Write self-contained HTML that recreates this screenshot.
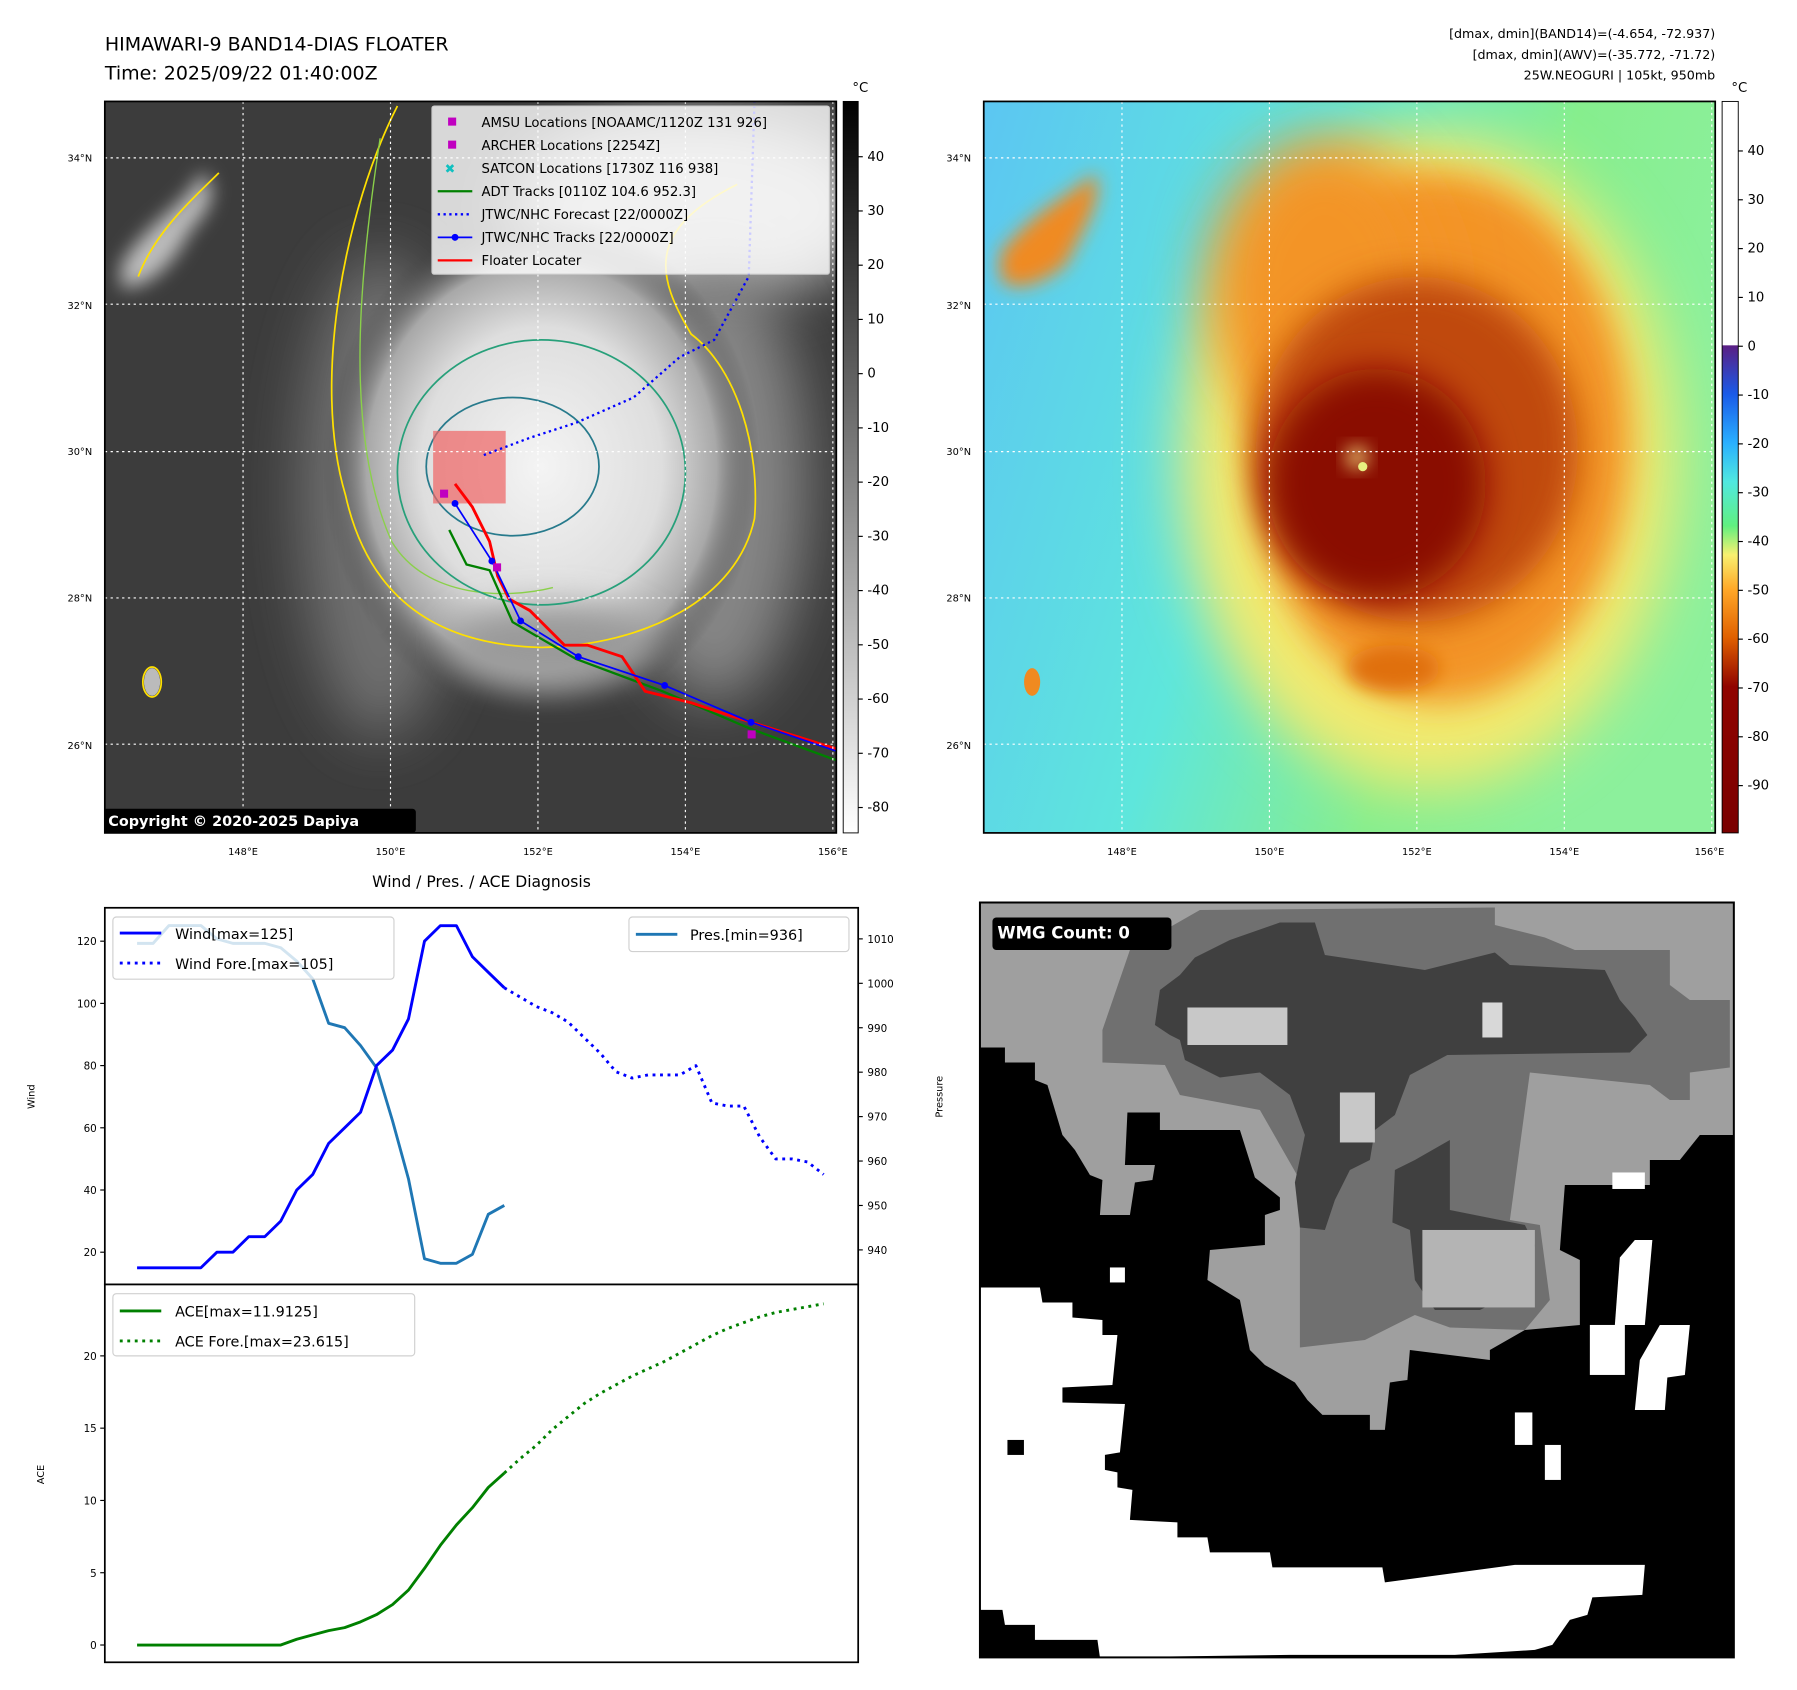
<!DOCTYPE html>
<html><head><meta charset="utf-8"><style>
html,body{margin:0;padding:0;background:#fff;}
svg{display:block;font-family:"DejaVu Sans","Liberation Sans",sans-serif;}
</style></head><body>
<svg id="root" width="1797" height="1690" viewBox="0 0 1560 1467" xmlns="http://www.w3.org/2000/svg">
<defs>
<filter id="b8" x="-50%" y="-50%" width="200%" height="200%"><feGaussianBlur stdDeviation="8"/></filter>
<filter id="b15" x="-50%" y="-50%" width="200%" height="200%"><feGaussianBlur stdDeviation="15"/></filter>
<filter id="b25" x="-50%" y="-50%" width="200%" height="200%"><feGaussianBlur stdDeviation="25"/></filter>
<clipPath id="clipL"><rect x="91" y="88" width="635" height="635"/></clipPath>
<clipPath id="clipR"><rect x="854" y="88" width="635" height="635"/></clipPath>
<radialGradient id="gstorm" cx="0.5" cy="0.5" r="0.5">
<stop offset="0" stop-color="#f4f4f4"/><stop offset="0.55" stop-color="#dedede"/><stop offset="0.8" stop-color="#a8a8a8"/><stop offset="1" stop-color="#3c3c3c" stop-opacity="0"/></radialGradient>
<linearGradient id="gbgR" x1="0" y1="0" x2="1" y2="0.3">
<stop offset="0" stop-color="#5cc6f2"/><stop offset="0.45" stop-color="#5ee6dc"/><stop offset="0.75" stop-color="#86ee8e"/><stop offset="1" stop-color="#8cf09c"/></linearGradient>
<linearGradient id="cbL" x1="0" y1="0" x2="0" y2="1"><stop offset="0" stop-color="#000"/><stop offset="1" stop-color="#fff"/></linearGradient>
<linearGradient id="cbR" x1="0" y1="0" x2="0" y2="1">
<stop offset="0" stop-color="#fff"/><stop offset="0.333" stop-color="#fff"/><stop offset="0.334" stop-color="#5a1f84"/>
<stop offset="0.4" stop-color="#1a5ae8"/><stop offset="0.467" stop-color="#2ab0ff"/><stop offset="0.52" stop-color="#50e8e0"/>
<stop offset="0.58" stop-color="#60f080"/><stop offset="0.62" stop-color="#f8f070"/><stop offset="0.667" stop-color="#ffa828"/>
<stop offset="0.733" stop-color="#e06000"/><stop offset="0.8" stop-color="#900400"/><stop offset="1" stop-color="#7a0000"/></linearGradient>
</defs>

<text x="91" y="44" font-size="16.5">HIMAWARI-9 BAND14-DIAS FLOATER</text>
<text x="91" y="69" font-size="16.5">Time: 2025/09/22 01:40:00Z</text>
<g font-size="11" text-anchor="end">
<text x="1489" y="33">[dmax, dmin](BAND14)=(-4.654, -72.937)</text>
<text x="1489" y="51">[dmax, dmin](AWV)=(-35.772, -71.72)</text>
<text x="1489" y="69">25W.NEOGURI | 105kt, 950mb</text>
</g>

<g clip-path="url(#clipL)">
<rect x="91" y="88" width="635" height="635" fill="#3c3c3c"/>
<ellipse cx="330" cy="430" rx="70" ry="210" fill="#707070" filter="url(#b25)"/>
<ellipse cx="600" cy="180" rx="160" ry="80" fill="#b8b8b8" filter="url(#b25)"/>
<ellipse cx="620" cy="420" rx="80" ry="190" fill="#858585" filter="url(#b25)"/>
<ellipse cx="470" cy="405" rx="190" ry="220" fill="url(#gstorm)"/>
<ellipse cx="480" cy="560" rx="90" ry="35" fill="#9a9a9a" filter="url(#b15)"/>
<path d="M105,230 C130,190 160,180 175,150 C190,160 185,180 165,200 C150,230 130,250 105,250 Z" fill="#bdbdbd" filter="url(#b8)"/>
<ellipse cx="132" cy="592" rx="7" ry="12" fill="#bbb"/>
<path d="M345,92 C300,180 270,330 300,430 C320,520 380,560 470,562 C560,560 640,520 655,450 C660,390 640,320 600,290 C570,240 560,200 640,160" fill="none" stroke="#ffe000" stroke-width="1.5"/>
<path d="M330,120 C310,250 300,380 340,470 C370,520 440,520 480,510" fill="none" stroke="#8ad04a" stroke-width="1.2"/>
<ellipse cx="470" cy="410" rx="125" ry="115" fill="none" stroke="#27a07a" stroke-width="1.5"/>
<ellipse cx="445" cy="405" rx="75" ry="60" fill="none" stroke="#277a8c" stroke-width="1.5"/>
<path d="M120,240 C135,200 170,170 190,150" fill="none" stroke="#ffe000" stroke-width="1.5"/>
<ellipse cx="132" cy="592" rx="8" ry="13" fill="none" stroke="#ffe000" stroke-width="1.5"/>
<rect x="376" y="374" width="63" height="63" fill="#f06464" opacity="0.7"/>
<polyline points="420,395 460,380 500,367 550,345 590,310 620,295 650,240 655,88" fill="none" stroke="#0000ff" stroke-width="2" stroke-dasharray="2,3"/>
<polyline points="390,460 405,490 425,495 445,540 500,572 575,600 650,632 726,660" fill="none" stroke="#008000" stroke-width="2"/>
<polyline points="395,420 410,440 425,470 432,500 442,520 460,530 490,560 510,560 540,570 560,600 600,610 630,620 726,650" fill="none" stroke="#ff0000" stroke-width="2.5"/>
<polyline points="395,437 427,487 452,539 502,570 577,595 652,627 726,652" fill="none" stroke="#0000ff" stroke-width="1.5"/>
<g fill="#0000ff"><circle cx="395" cy="437" r="3"/><circle cx="427" cy="487" r="3"/><circle cx="452" cy="539" r="3"/><circle cx="502" cy="570" r="3"/><circle cx="577" cy="595" r="3"/><circle cx="652" cy="627" r="3"/></g>
<g fill="#c000c0"><rect x="382" y="425" width="7" height="7"/><rect x="428" y="489" width="7" height="7"/><rect x="649" y="634" width="7" height="7"/></g>
<g stroke="#fff" stroke-width="1" stroke-dasharray="2,3" fill="none">
<line x1="211" y1="88" x2="211" y2="723"/><line x1="339" y1="88" x2="339" y2="723"/><line x1="467" y1="88" x2="467" y2="723"/><line x1="595" y1="88" x2="595" y2="723"/><line x1="723" y1="88" x2="723" y2="723"/>
<line x1="91" y1="137" x2="726" y2="137"/><line x1="91" y1="264" x2="726" y2="264"/><line x1="91" y1="392" x2="726" y2="392"/><line x1="91" y1="519" x2="726" y2="519"/><line x1="91" y1="646" x2="726" y2="646"/>
</g>
<rect x="89" y="702" width="272" height="21" rx="3" fill="#000"/>
<text x="94" y="717" font-size="12.5" font-weight="bold" fill="#fff">Copyright © 2020-2025 Dapiya</text>
</g>
<rect x="91" y="88" width="635" height="635" fill="none" stroke="#000" stroke-width="1.5"/>

<g font-size="11.5">
<rect x="375" y="92" width="345" height="146" fill="#fff" fill-opacity="0.8" stroke="#ccc" rx="2"/>
<rect x="389" y="102" width="7" height="7" fill="#c000c0"/><text x="418" y="110">AMSU Locations [NOAAMC/1120Z 131 926]</text>
<rect x="389" y="122" width="7" height="7" fill="#c000c0"/><text x="418" y="130">ARCHER Locations [2254Z]</text>
<text x="386" y="150" fill="#10c0c0" font-size="11">✖</text><text x="418" y="150">SATCON Locations [1730Z 116 938]</text>
<line x1="380" y1="166" x2="410" y2="166" stroke="#008000" stroke-width="2"/><text x="418" y="170">ADT Tracks [0110Z 104.6 952.3]</text>
<line x1="380" y1="186" x2="410" y2="186" stroke="#0000ff" stroke-width="2" stroke-dasharray="2,3"/><text x="418" y="190">JTWC/NHC Forecast [22/0000Z]</text>
<line x1="380" y1="206" x2="410" y2="206" stroke="#0000ff" stroke-width="1.5"/><circle cx="395" cy="206" r="3" fill="#0000ff"/><text x="418" y="210">JTWC/NHC Tracks [22/0000Z]</text>
<line x1="380" y1="226" x2="410" y2="226" stroke="#ff0000" stroke-width="2"/><text x="418" y="230">Floater Locater</text>
</g>

<g font-size="8.5">
<g text-anchor="end"><text x="80" y="140">34°N</text><text x="80" y="268">32°N</text><text x="80" y="395">30°N</text><text x="80" y="522">28°N</text><text x="80" y="650">26°N</text>
<text x="843" y="140">34°N</text><text x="843" y="268">32°N</text><text x="843" y="395">30°N</text><text x="843" y="522">28°N</text><text x="843" y="650">26°N</text></g>
<g text-anchor="middle"><text x="211" y="742">148°E</text><text x="339" y="742">150°E</text><text x="467" y="742">152°E</text><text x="595" y="742">154°E</text><text x="723" y="742">156°E</text>
<text x="974" y="742">148°E</text><text x="1102" y="742">150°E</text><text x="1230" y="742">152°E</text><text x="1358" y="742">154°E</text><text x="1484" y="742">156°E</text></g>
</g>

<g>
<rect x="732" y="88" width="13" height="635" fill="url(#cbL)" stroke="#000" stroke-width="0.8"/>
<text x="740" y="80" font-size="11.5">°C</text>
<g font-size="11.5" id="cbLticks"></g>
</g>

<g clip-path="url(#clipR)">
<rect x="854" y="88" width="635" height="635" fill="url(#gbgR)"/>
<ellipse cx="1240" cy="400" rx="215" ry="285" fill="#f2ea70" filter="url(#b25)"/>
<ellipse cx="1250" cy="380" rx="165" ry="230" fill="#f39428" filter="url(#b15)"/>
<ellipse cx="1150" cy="250" rx="100" ry="130" fill="#f39428" filter="url(#b25)"/>
<ellipse cx="1230" cy="390" rx="140" ry="150" fill="#c04a08" filter="url(#b15)"/>
<ellipse cx="1195" cy="420" rx="95" ry="100" fill="#8a0800" filter="url(#b15)"/>
<ellipse cx="1210" cy="580" rx="40" ry="20" fill="#e07010" filter="url(#b8)"/>
<circle cx="1178" cy="397" r="9" fill="#f8e080" filter="url(#b8)"/>
<circle cx="1183" cy="405" r="4" fill="#e8f080"/>
<path d="M868,220 C900,180 930,170 950,150 C960,170 940,200 925,230 C900,250 875,255 868,240 Z" fill="#f08a20" filter="url(#b8)"/>
<ellipse cx="896" cy="592" rx="7" ry="12" fill="#f08a20"/>
<g stroke="#fff" stroke-width="1" stroke-dasharray="2,3" fill="none">
<line x1="974" y1="88" x2="974" y2="723"/><line x1="1102" y1="88" x2="1102" y2="723"/><line x1="1230" y1="88" x2="1230" y2="723"/><line x1="1358" y1="88" x2="1358" y2="723"/><line x1="1486" y1="88" x2="1486" y2="723"/>
<line x1="854" y1="137" x2="1489" y2="137"/><line x1="854" y1="264" x2="1489" y2="264"/><line x1="854" y1="392" x2="1489" y2="392"/><line x1="854" y1="519" x2="1489" y2="519"/><line x1="854" y1="646" x2="1489" y2="646"/>
</g>
</g>
<rect x="854" y="88" width="635" height="635" fill="none" stroke="#000" stroke-width="1.5"/>
<g>
<rect x="1495" y="88" width="14" height="635" fill="url(#cbR)" stroke="#000" stroke-width="0.8"/>
<text x="1503" y="80" font-size="11.5">°C</text>
<g font-size="11.5" id="cbRticks"></g>
</g>

<g transform="translate(850.7,781.25) scale(0.434)">
<rect x="0" y="5" width="1508" height="1510" fill="#000"/>
<polygon fill="#9f9f9f" points="0,5 1508,5 1508,470 1440,470 1400,520 1340,520 1340,570 1170,570 1160,700 1200,720 1200,850 1090,860 1020,900 1020,920 860,900 855,960 820,965 810,1060 780,1060 780,1030 685,1030 655,1000 630,965 570,930 540,900 520,800 455,760 460,700 570,690 570,630 600,620 600,595 550,555 520,460 360,460 360,425 295,425 290,530 350,530 345,560 310,565 300,630 240,630 245,560 220,550 190,500 165,470 135,370 110,360 110,325 50,325 50,295 0,295"/>
<polygon fill="#707070" points="245,260 300,100 440,20 1030,15 1030,50 1130,75 1190,100 1380,100 1380,170 1420,200 1500,200 1500,335 1420,345 1420,400 1380,400 1340,370 1100,345 1060,640 1120,650 1140,800 1090,860 940,855 870,830 770,880 640,895 640,560 560,420 400,390 370,330 245,325"/>
<polygon fill="#404040" points="350,250 360,180 400,150 430,115 500,80 600,45 670,45 690,110 890,140 1030,105 1060,130 1250,140 1280,200 1310,235 1335,270 1300,305 935,310 860,350 830,430 790,460 780,520 740,540 710,600 690,660 640,655 630,565 650,470 620,390 560,345 480,355 410,320 400,280 380,270"/>
<polygon fill="#404040" points="830,540 870,520 940,480 940,620 1090,650 1110,690 1100,760 1060,790 1000,820 910,820 870,760 860,660 825,645"/>
<rect x="415" y="215" width="200" height="75" fill="#c8c8c8"/>
<rect x="885" y="660" width="225" height="155" fill="#b4b4b4"/>
<rect x="720" y="385" width="70" height="100" fill="#c8c8c8"/>
<rect x="1005" y="205" width="40" height="70" fill="#d8d8d8"/>
<polygon fill="#fff" points="0,775 120,775 125,805 185,805 185,835 245,840 245,870 275,870 265,970 165,975 165,1005 290,1008 280,1105 250,1110 250,1140 275,1145 275,1175 305,1180 300,1240 395,1245 395,1275 455,1275 460,1305 580,1305 585,1335 805,1335 810,1365 1070,1330 1330,1330 1325,1390 1225,1395 1215,1430 1180,1440 1145,1490 1110,1500 950,1510 620,1510 240,1515 235,1480 110,1480 110,1450 50,1450 45,1420 0,1420"/>
<g fill="#fff"><rect x="1265" y="545" width="65" height="33"/><polygon points="1310,680 1345,680 1330,850 1270,850 1280,715"/><rect x="1220" y="850" width="70" height="100"/><polygon points="1360,850 1420,850 1410,950 1375,955 1370,1020 1310,1020 1320,920"/><rect x="1070" y="1025" width="35" height="65"/><rect x="1130" y="1090" width="32" height="70"/><rect x="260" y="735" width="30" height="30"/></g>
<rect x="55" y="1080" width="33" height="30" fill="#000"/>
<rect x="0" y="5" width="1508" height="1510" fill="none" stroke="#000" stroke-width="4"/>
<rect x="25" y="35" width="358" height="65" rx="8" fill="#000"/>
<text x="35" y="77" font-size="33" font-weight="bold" fill="#fff">WMG Count: 0</text>
</g>

<text x="418" y="770" font-size="13.5" text-anchor="middle">Wind / Pres. / ACE Diagnosis</text>
<rect x="91" y="788" width="654" height="327" fill="#fff" stroke="#000" stroke-width="1.5"/>
<rect x="91" y="1115" width="654" height="328" fill="#fff" stroke="#000" stroke-width="1.5"/>
<g id="chart"></g>
<text transform="translate(30,952) rotate(-90)" font-size="8.5" text-anchor="middle">Wind</text>
<text transform="translate(818,952) rotate(-90)" font-size="8.5" text-anchor="middle">Pressure</text>
<text transform="translate(38,1280) rotate(-90)" font-size="8.5" text-anchor="middle">ACE</text>

<g font-size="12.5">
<rect x="98" y="796" width="244" height="54" rx="3" fill="#fff" fill-opacity="0.8" stroke="#d0d0d0"/>
<line x1="104" y1="810" x2="140" y2="810" stroke="#0000ff" stroke-width="2.5"/><text x="152" y="815">Wind[max=125]</text>
<line x1="104" y1="836" x2="140" y2="836" stroke="#0000ff" stroke-width="2.5" stroke-dasharray="2.5,4"/><text x="152" y="841">Wind Fore.[max=105]</text>
</g>
<g font-size="12.5">
<rect x="546" y="796" width="191" height="30" rx="3" fill="#fff" fill-opacity="0.8" stroke="#d0d0d0"/>
<line x1="552" y1="811" x2="588" y2="811" stroke="#1f77b4" stroke-width="2.5"/><text x="599" y="816">Pres.[min=936]</text>
</g>
<g font-size="12.5">
<rect x="98" y="1123" width="262" height="54" rx="3" fill="#fff" fill-opacity="0.8" stroke="#d0d0d0"/>
<line x1="104" y1="1138" x2="140" y2="1138" stroke="#008000" stroke-width="2.5"/><text x="152" y="1143">ACE[max=11.9125]</text>
<line x1="104" y1="1164" x2="140" y2="1164" stroke="#008000" stroke-width="2.5" stroke-dasharray="2.5,4"/><text x="152" y="1169">ACE Fore.[max=23.615]</text>
</g>
</svg>
<script>
const windObs=[15,15,15,15,15,20,20,25,25,30,40,45,55,60,65,80,85,95,120,125,125,115,110,105];
const windFore=[105,102,99,97,94,89,84,78,76,77,77,77,80,68,67,67,57,50,50,49,45];
const presObs=[1009,1009,1013,1013,1013,1010,1009,1009,1009,1008,1005,1001,991,990,986,981,969,956,938,937,937,939,948,950];
const aceObs=[0,0,0,0,0,0,0,0,0,0,0.4,0.7,1.0,1.2,1.6,2.1,2.8,3.8,5.3,6.9,8.3,9.5,10.9,11.9];
const aceFore=[11.9,12.9,13.8,14.9,15.8,16.7,17.4,18.0,18.6,19.1,19.6,20.2,20.8,21.4,21.9,22.3,22.7,23.0,23.2,23.4,23.6];
const windTicks=[20,40,60,80,100,120];
const presTicks=[940,950,960,970,980,990,1000,1010];
const aceTicks=[0,5,10,15,20];
const cbLTicks=[40,30,20,10,0,-10,-20,-30,-40,-50,-60,-70,-80];
const cbRTicks=[40,30,20,10,0,-10,-20,-30,-40,-50,-60,-70,-80,-90];
const NS='http://www.w3.org/2000/svg';
const xS=i=>119+i*(715-119)/43;
const yW=v=>1087-(v-20)*2.7;
const yP=v=>1085-(v-940)*(270/70);
const yA=v=>1428-v*12.55;
const chart=document.getElementById('chart');
function mk(tag,attrs,parent){const e=document.createElementNS(NS,tag);for(const k in attrs)e.setAttribute(k,attrs[k]);(parent||chart).appendChild(e);return e;}
function line(vals,off,ys,color,dash,name){
  const pts=vals.map((v,i)=>xS(i+off).toFixed(1)+','+ys(v).toFixed(1)).join(' ');
  const p=mk('polyline',{points:pts,fill:'none',stroke:color,'stroke-width':2.5,'stroke-linejoin':'round'});
  if(dash)p.setAttribute('stroke-dasharray','2.5,4');
  
  
}
line(presObs,0,yP,'#1f77b4',false,'pressure-line');
line(windObs,0,yW,'#0000ff',false,'wind-line');
line(windFore,23,yW,'#0000ff',true,'wind-forecast-line');
line(aceObs,0,yA,'#008000',false,'ace-line');
line(aceFore,23,yA,'#008000',true,'ace-forecast-line');
function ticks(list,ys,x,side,parent,fs){
  list.forEach(v=>{
    const y=ys(v);
    const t=mk('line',{x1:x,x2:x+(side<0?-4:4),y1:y,y2:y,stroke:'#000','stroke-width':1},parent);
    
    
    const tx=mk('text',{x:side<0?x-7:x+8,y:y+3.5,'font-size':fs||9,'text-anchor':side<0?'end':'start'},parent);
    tx.textContent=v;
    
    
  });
}
ticks(windTicks,yW,91,-1);
ticks(presTicks,yP,745,1);
ticks(aceTicks,yA,91,-1);
ticks(cbLTicks,v=>136+(40-v)*4.708,745,1,document.getElementById('cbLticks'),11.5);
ticks(cbRTicks,v=>131+(40-v)*4.238,1509,1,document.getElementById('cbRticks'),11.5);
</script>
</body></html>
